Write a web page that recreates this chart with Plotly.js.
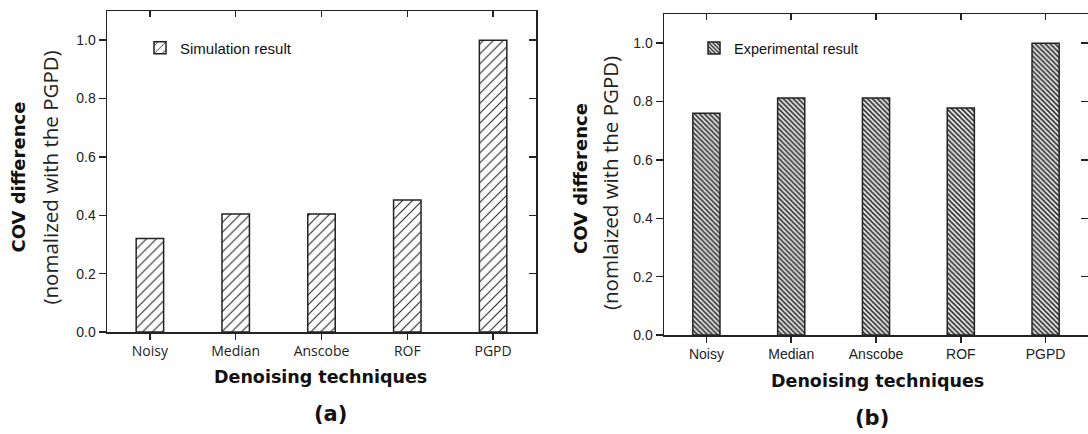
<!DOCTYPE html>
<html>
<head>
<meta charset="utf-8">
<script src="https://cdn.plot.ly/plotly-3.0.1.min.js"></script>
<style>html,body{margin:0;padding:0;background:#fff;}#chart{width:1088px;height:434px;}</style>
</head>
<body>
<div id="chart"></div>
<script>
const categories = ["Noisy", "Median", "Anscobe", "ROF", "PGPD"];
const simulationValues = [0.32, 0.404, 0.404, 0.452, 1.0];
const experimentalValues = [0.76, 0.812, 0.812, 0.778, 1.0];
const yTicks = [0, 0.2, 0.4, 0.6, 0.8, 1.0];
const catPos = categories.map((c, i) => i);

const W = 1088, H = 434;
const px = v => v / W;
const py = v => 1 - v / H;

const lineCol = '#222';
const tickFontA = {family: 'Open Sans, sans-serif', size: 14, color: '#222'};
const tickFontB = {family: 'Liberation Sans, Arial, sans-serif', size: 14, color: '#222'};
const numFont = {family: 'Liberation Sans, Arial, sans-serif', size: 14, color: '#222'};

const traces = [
  {
    type: 'bar', name: 'Simulation result', x: catPos, y: simulationValues,
    xaxis: 'x', yaxis: 'y', width: 0.32, legend: 'legend',
    marker: {color: 'white', line: {color: lineCol, width: 1.5},
      pattern: {shape: '/', fgcolor: '#222', bgcolor: 'white', size: 7, solidity: 0.15}},
    hoverinfo: 'skip'
  },
  {
    type: 'bar', name: 'Experimental result', x: catPos, y: experimentalValues,
    xaxis: 'x2', yaxis: 'y2', width: 0.32, legend: 'legend2',
    marker: {color: '#ddd', line: {color: lineCol, width: 1.5},
      pattern: {shape: '\\', fgcolor: '#333', bgcolor: '#e4e4e4', size: 3.5, solidity: 0.45}},
    hoverinfo: 'skip'
  },
  {type: 'scatter', x: [], y: [], xaxis: 'x3', yaxis: 'y3', showlegend: false, hoverinfo: 'skip'},
  {type: 'scatter', x: [], y: [], xaxis: 'x4', yaxis: 'y4', showlegend: false, hoverinfo: 'skip'}
];

const domL = [px(107), px(536)], domLy = [py(332), py(11)];
const domR = [px(664), 1], domRy = [py(335), py(14)];

function xMain(dom, anchor, font) {
  return {domain: dom, anchor: anchor, type: 'linear', range: [-0.5, 4.5],
    tickmode: 'array', tickvals: catPos, ticktext: categories, tickfont: font,
    ticks: 'outside', ticklen: 6, tickwidth: 1.5, tickcolor: lineCol,
    showline: true, linewidth: 1.5, linecolor: lineCol, mirror: false,
    showgrid: false, zeroline: false, fixedrange: true};
}
function yMain(dom, anchor) {
  return {domain: dom, anchor: anchor, range: [0, 1.1],
    tickmode: 'array', tickvals: yTicks, tickformat: '.1f', tickfont: numFont,
    ticks: 'outside', ticklen: 7, tickwidth: 1.5, tickcolor: lineCol,
    showline: true, linewidth: 1.5, linecolor: lineCol, mirror: false,
    showgrid: false, zeroline: false, fixedrange: true};
}
function xTop(over, anchor) {
  return {overlaying: over, anchor: anchor, side: 'top', type: 'linear', range: [-0.5, 4.5],
    tickmode: 'array', tickvals: catPos, showticklabels: false,
    ticks: 'inside', ticklen: 6, tickwidth: 1.5, tickcolor: lineCol,
    showline: true, linewidth: 1.5, linecolor: lineCol,
    showgrid: false, zeroline: false, fixedrange: true};
}
function yRight(over, anchor, showLine) {
  return {overlaying: over, anchor: anchor, side: 'right', range: [0, 1.1],
    tickmode: 'array', tickvals: yTicks, showticklabels: false,
    ticks: 'inside', ticklen: 7, tickwidth: 1.5, tickcolor: lineCol,
    showline: showLine, linewidth: 1.5, linecolor: lineCol,
    showgrid: false, zeroline: false, fixedrange: true};
}

const boldFont = s => ({family: 'DejaVu Sans, sans-serif', size: s, color: '#111', weight: 700});
const regFont = s => ({family: 'Open Sans, sans-serif', size: s, color: '#222'});

function ann(text, x, y, font, angle) {
  return {text: text, x: px(x), y: py(y), xref: 'paper', yref: 'paper', showarrow: false,
    xanchor: 'center', yanchor: 'middle', font: font, textangle: angle || 0};
}

const legendFont = {family: 'Liberation Sans, Arial, sans-serif', size: 15, color: '#111'};

const layout = {
  width: W, height: H, autosize: false,
  margin: {l: 0, r: 0, t: 0, b: 0, pad: 0},
  paper_bgcolor: 'white', plot_bgcolor: 'rgba(0,0,0,0)',
  barmode: 'group', showlegend: true,
  xaxis: xMain(domL, 'y', tickFontA),
  yaxis: yMain(domLy, 'x'),
  xaxis2: xMain(domR, 'y2', tickFontB),
  yaxis2: yMain(domRy, 'x2'),
  xaxis3: xTop('x', 'y3'),
  yaxis3: Object.assign(yRight('y', 'x3', true), {domain: domLy}),
  xaxis4: xTop('x2', 'y4'),
  yaxis4: Object.assign(yRight('y2', 'x4', false), {domain: domRy}),
  legend: {x: px(140), y: py(48), xanchor: 'left', yanchor: 'middle',
    bgcolor: 'rgba(0,0,0,0)', borderwidth: 0, font: legendFont},
  legend2: {x: px(694), y: py(48), xanchor: 'left', yanchor: 'middle',
    bgcolor: 'rgba(0,0,0,0)', borderwidth: 0,
    font: Object.assign({}, legendFont, {size: 14.5})},
  annotations: [
    ann('COV difference', 18.5, 177, boldFont(18), -90),
    ann('(nomalized with the PGPD)', 49.5, 178, regFont(20.5), -90),
    ann('COV difference', 580, 179, boldFont(18), -90),
    ann('(nomlaized with the PGPD)', 610, 183, regFont(20.5), -90),
    ann('Denoising techniques', 320, 377, boldFont(17.5)),
    ann('Denoising techniques', 877, 381, boldFont(17.5)),
    ann('(a)', 330, 414, boldFont(21)),
    ann('(b)', 872, 418, boldFont(21))
  ]
};

Plotly.newPlot('chart', traces, layout, {staticPlot: true, displayModeBar: false});
</script>
</body>
</html>
